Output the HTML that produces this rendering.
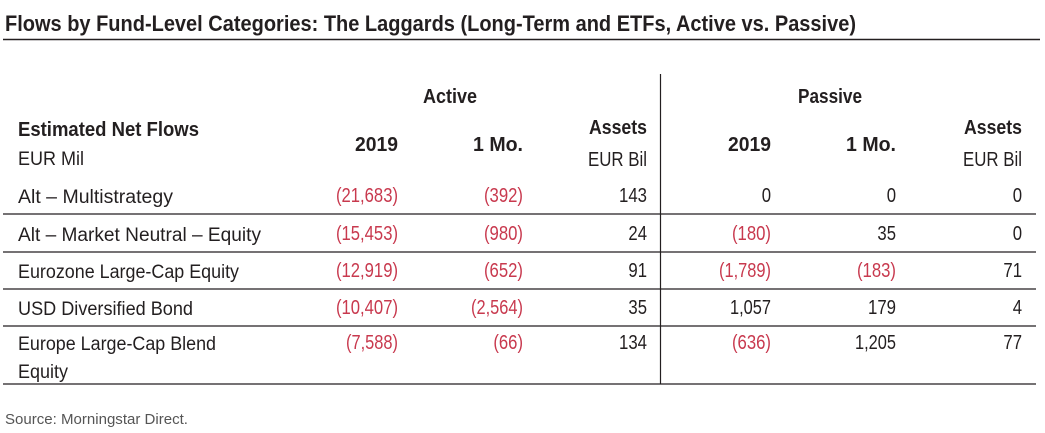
<!DOCTYPE html>
<html><head><meta charset="utf-8"><style>
html,body{margin:0;padding:0;background:#fff;width:1045px;height:433px;overflow:hidden}
svg text{font-family:"Liberation Sans Narrow","Liberation Sans",sans-serif;fill:#231f20}
.b{font-weight:bold}
.r{fill:#c8394e}
.n{font-size:20px;text-anchor:end}
.l{font-size:19px}
</style></head><body>
<svg width="1045" height="433" viewBox="0 0 1045 433" xmlns="http://www.w3.org/2000/svg">
<text x="5" y="31" class="b" font-size="22" textLength="851" lengthAdjust="spacingAndGlyphs">Flows by Fund-Level Categories: The Laggards (Long-Term and ETFs, Active vs. Passive)</text>
<line x1="3" y1="39.5" x2="1040" y2="39.5" stroke="#231f20" stroke-width="1.5"/>
<line x1="660.5" y1="74" x2="660.5" y2="384" stroke="#231f20" stroke-width="1.2"/>
<g stroke="#231f20" stroke-width="1.3">
<line x1="3" y1="214" x2="1036" y2="214"/>
<line x1="3" y1="252" x2="1036" y2="252"/>
<line x1="3" y1="289" x2="1036" y2="289"/>
<line x1="3" y1="326" x2="1036" y2="326"/>
<line x1="3" y1="384" x2="1036" y2="384"/>
</g>
<text x="423" y="103" class="b" font-size="20" textLength="54" lengthAdjust="spacingAndGlyphs">Active</text>
<text x="798" y="103" class="b" font-size="20" textLength="64" lengthAdjust="spacingAndGlyphs">Passive</text>
<text x="18" y="136" class="b" font-size="20" textLength="181" lengthAdjust="spacingAndGlyphs">Estimated Net Flows</text>
<text x="18" y="165" class="l" textLength="66" lengthAdjust="spacingAndGlyphs">EUR Mil</text>
<text x="398" y="151" class="b n" textLength="43" lengthAdjust="spacingAndGlyphs">2019</text>
<text x="523" y="151" class="b n" textLength="50" lengthAdjust="spacingAndGlyphs">1 Mo.</text>
<text x="647" y="134" class="b n" textLength="58" lengthAdjust="spacingAndGlyphs">Assets</text>
<text x="647" y="166" class="n" textLength="59" lengthAdjust="spacingAndGlyphs">EUR Bil</text>
<text x="771" y="151" class="b n" textLength="43" lengthAdjust="spacingAndGlyphs">2019</text>
<text x="896" y="151" class="b n" textLength="50" lengthAdjust="spacingAndGlyphs">1 Mo.</text>
<text x="1022" y="134" class="b n" textLength="58" lengthAdjust="spacingAndGlyphs">Assets</text>
<text x="1022" y="166" class="n" textLength="59" lengthAdjust="spacingAndGlyphs">EUR Bil</text>

<text x="18" y="203" class="l" textLength="155" lengthAdjust="spacingAndGlyphs">Alt – Multistrategy</text>
<text x="398" y="202" class="n r" textLength="62" lengthAdjust="spacingAndGlyphs">(21,683)</text><text x="523" y="202" class="n r" textLength="39" lengthAdjust="spacingAndGlyphs">(392)</text><text x="647" y="202" class="n" textLength="28" lengthAdjust="spacingAndGlyphs">143</text>
<text x="771" y="202" class="n" textLength="9.3" lengthAdjust="spacingAndGlyphs">0</text><text x="896" y="202" class="n" textLength="9.3" lengthAdjust="spacingAndGlyphs">0</text><text x="1022" y="202" class="n" textLength="9.3" lengthAdjust="spacingAndGlyphs">0</text>

<text x="18" y="241" class="l" textLength="243" lengthAdjust="spacingAndGlyphs">Alt – Market Neutral – Equity</text>
<text x="398" y="240" class="n r" textLength="62" lengthAdjust="spacingAndGlyphs">(15,453)</text><text x="523" y="240" class="n r" textLength="39" lengthAdjust="spacingAndGlyphs">(980)</text><text x="647" y="240" class="n" textLength="18.6" lengthAdjust="spacingAndGlyphs">24</text>
<text x="771" y="240" class="n r" textLength="39" lengthAdjust="spacingAndGlyphs">(180)</text><text x="896" y="240" class="n" textLength="18.6" lengthAdjust="spacingAndGlyphs">35</text><text x="1022" y="240" class="n" textLength="9.3" lengthAdjust="spacingAndGlyphs">0</text>

<text x="18" y="278" class="l" textLength="221" lengthAdjust="spacingAndGlyphs">Eurozone Large-Cap Equity</text>
<text x="398" y="277" class="n r" textLength="62" lengthAdjust="spacingAndGlyphs">(12,919)</text><text x="523" y="277" class="n r" textLength="39" lengthAdjust="spacingAndGlyphs">(652)</text><text x="647" y="277" class="n" textLength="18.6" lengthAdjust="spacingAndGlyphs">91</text>
<text x="771" y="277" class="n r" textLength="52" lengthAdjust="spacingAndGlyphs">(1,789)</text><text x="896" y="277" class="n r" textLength="39" lengthAdjust="spacingAndGlyphs">(183)</text><text x="1022" y="277" class="n" textLength="18.6" lengthAdjust="spacingAndGlyphs">71</text>

<text x="18" y="315" class="l" textLength="175" lengthAdjust="spacingAndGlyphs">USD Diversified Bond</text>
<text x="398" y="314" class="n r" textLength="62" lengthAdjust="spacingAndGlyphs">(10,407)</text><text x="523" y="314" class="n r" textLength="52" lengthAdjust="spacingAndGlyphs">(2,564)</text><text x="647" y="314" class="n" textLength="18.6" lengthAdjust="spacingAndGlyphs">35</text>
<text x="771" y="314" class="n" textLength="41" lengthAdjust="spacingAndGlyphs">1,057</text><text x="896" y="314" class="n" textLength="28" lengthAdjust="spacingAndGlyphs">179</text><text x="1022" y="314" class="n" textLength="9.3" lengthAdjust="spacingAndGlyphs">4</text>

<text x="18" y="350" class="l" textLength="198" lengthAdjust="spacingAndGlyphs">Europe Large-Cap Blend</text>
<text x="18" y="378" class="l" textLength="50" lengthAdjust="spacingAndGlyphs">Equity</text>
<text x="398" y="349" class="n r" textLength="52" lengthAdjust="spacingAndGlyphs">(7,588)</text><text x="523" y="349" class="n r" textLength="29.6" lengthAdjust="spacingAndGlyphs">(66)</text><text x="647" y="349" class="n" textLength="28" lengthAdjust="spacingAndGlyphs">134</text>
<text x="771" y="349" class="n r" textLength="39" lengthAdjust="spacingAndGlyphs">(636)</text><text x="896" y="349" class="n" textLength="41" lengthAdjust="spacingAndGlyphs">1,205</text><text x="1022" y="349" class="n" textLength="18.6" lengthAdjust="spacingAndGlyphs">77</text>

<text x="5" y="424" font-size="15" style="fill:#555" textLength="183" lengthAdjust="spacingAndGlyphs">Source: Morningstar Direct.</text>
</svg>
</body></html>
